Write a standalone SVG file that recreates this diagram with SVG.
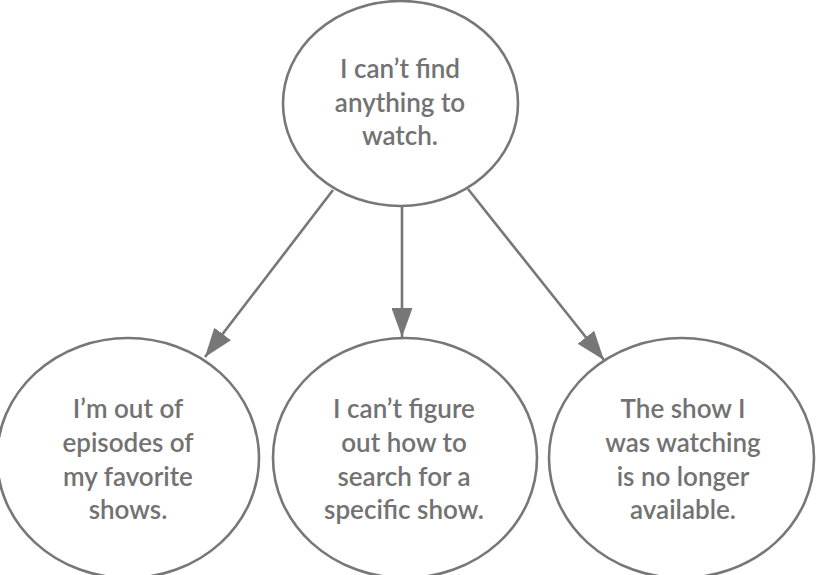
<svg xmlns="http://www.w3.org/2000/svg" width="816" height="575" viewBox="0 0 816 575">
<style>
.node ellipse{fill:#fff;stroke:#777;stroke-width:2.6}
.node text{font-family:Lato,"Noto Sans",sans-serif;font-size:26px;font-weight:600;fill:#727272;text-anchor:middle}
.edges line{stroke:#777;stroke-width:2.6;fill:none}
</style>
<defs>
<marker id="ah" viewBox="0 0 10 10" refX="10" refY="5" markerWidth="29" markerHeight="21" markerUnits="userSpaceOnUse" orient="auto" preserveAspectRatio="none">
<path d="M0,0 L10,5 L0,10 Z" fill="#777"/>
</marker>
</defs>
<rect width="816" height="575" fill="#fff"/>
<g class="edges">
<line x1="333" y1="190" x2="205" y2="357" marker-end="url(#ah)"/>
<line x1="402" y1="206" x2="402" y2="337" marker-end="url(#ah)"/>
<line x1="468" y1="189" x2="604" y2="360" marker-end="url(#ah)"/>
</g>
<g id="n0" class="node">
<ellipse cx="400.5" cy="103.5" rx="117.5" ry="102.5"/>
<text x="400" y="78">I can’t find</text>
<text x="400" y="112">anything to</text>
<text x="400" y="145">watch.</text>
</g>
<g id="n1" class="node">
<ellipse cx="128" cy="458" rx="131" ry="120"/>
<text x="128" y="418">I’m out of</text>
<text x="128" y="452">episodes of</text>
<text x="128" y="486">my favorite</text>
<text x="128" y="519">shows.</text>
</g>
<g id="n2" class="node">
<ellipse cx="405" cy="458" rx="132" ry="120"/>
<text x="404" y="418">I can’t figure</text>
<text x="404" y="452">out how to</text>
<text x="404" y="486">search for a</text>
<text x="404" y="519">specific show.</text>
</g>
<g id="n3" class="node">
<ellipse cx="681.5" cy="458" rx="132.5" ry="120"/>
<text x="683" y="418">The show I</text>
<text x="683" y="452">was watching</text>
<text x="683" y="486">is no longer</text>
<text x="683" y="519">available.</text>
</g>
</svg>
